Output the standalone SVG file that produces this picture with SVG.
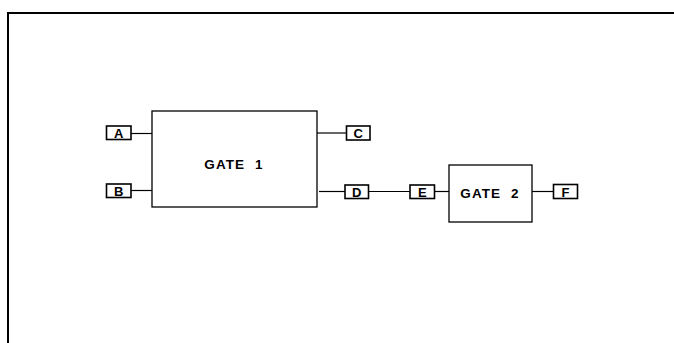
<svg xmlns="http://www.w3.org/2000/svg" width="674" height="343" viewBox="0 0 674 343">
<style>
.box{fill:#fff;stroke:#000;stroke-width:1.3}
.pin{fill:#fff;stroke:#000;stroke-width:1.6}
.wire{stroke:#000;stroke-width:1.2;fill:none}
.frame{stroke:#000;stroke-width:2;fill:none}
.t{font-family:"Liberation Sans",Arial,sans-serif;font-weight:bold;fill:#000;text-anchor:middle}
.gt{font-size:13.5px;letter-spacing:1.1px;word-spacing:5px}
.pt{font-size:13px;letter-spacing:0.5px}
</style>
<rect width="674" height="343" fill="#fff"/>
<path class="frame" d="M8,343 V13 H674"/>
<g id="connectors">
<line class="wire" x1="131" y1="133.5" x2="152" y2="133.5"/>
<line class="wire" x1="131" y1="190.5" x2="152" y2="190.5"/>
<line class="wire" x1="317" y1="133" x2="346.5" y2="133"/>
<line class="wire" x1="319" y1="191.5" x2="345" y2="191.5"/>
<line class="wire" x1="368.5" y1="191.5" x2="410" y2="191.5"/>
<line class="wire" x1="434.5" y1="191.5" x2="449" y2="191.5"/>
<line class="wire" x1="532" y1="191.5" x2="553.5" y2="191.5"/>
</g>
<g id="gate1"><rect class="box" x="152" y="111" width="165" height="96"/><text class="t gt" x="234" y="168.5">GATE 1</text></g>
<g id="gate2"><rect class="box" x="449" y="165" width="83" height="57"/><text class="t gt" x="490" y="197.5">GATE 2</text></g>
<g id="A"><rect class="pin" x="106.5" y="126" width="24.5" height="13.5"/><text class="t pt" x="119" y="137.8">A</text></g>
<g id="B"><rect class="pin" x="106.5" y="184" width="24.5" height="13.5"/><text class="t pt" x="119" y="195.8">B</text></g>
<g id="C"><rect class="pin" x="346.5" y="126" width="23.5" height="14"/><text class="t pt" x="358.5" y="138.3">C</text></g>
<g id="D"><rect class="pin" x="345" y="185" width="23.5" height="13.5"/><text class="t pt" x="357" y="196.8">D</text></g>
<g id="E"><rect class="pin" x="410" y="185" width="24.5" height="13.5"/><text class="t pt" x="422.5" y="196.8">E</text></g>
<g id="F"><rect class="pin" x="553.5" y="184.5" width="24" height="14"/><text class="t pt" x="565.8" y="196.8">F</text></g>
</svg>
